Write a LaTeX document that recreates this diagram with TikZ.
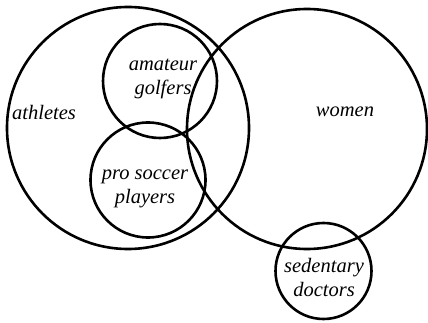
\documentclass[tikz,border=0pt]{standalone}
\usepackage{fontspec}
\setmainfont{Liberation Serif}[ItalicFont={Liberation Serif Italic}]
\begin{document}
\begin{tikzpicture}[x=1pt,y=-1pt,
  setcircle/.style={draw=black,line width=2.6pt,circle,inner sep=0pt,minimum size=#1},
  setlabel/.style={font=\itshape\fontsize{20.5}{24}\selectfont,align=center,inner sep=0pt,text=black}]
  \useasboundingbox (0,0) rectangle (428,323);
  % sets
  \node[setcircle=242pt] (athletes) at (128,128) {};
  \node[setcircle=240pt] (women) at (307,129) {};
  \node[setcircle=114pt] (golfers) at (160,81) {};
  \node[setcircle=115pt] (soccer) at (148,180) {};
  \node[setcircle=96pt] (doctors) at (323.5,271) {};
  % labels
  \node[setlabel] (tathletes) at (44,112) {athletes};
  \node[setlabel] (twomen) at (345,112) {women};
  \node[setlabel] (tgolfers) at (163,79) {amateur\\golfers};
  \node[setlabel] (tsoccer) at (145,189) {pro soccer\\players};
  \node[setlabel] (tdoctors) at (324,277) {sedentary\\doctors};
\end{tikzpicture}
\end{document}
